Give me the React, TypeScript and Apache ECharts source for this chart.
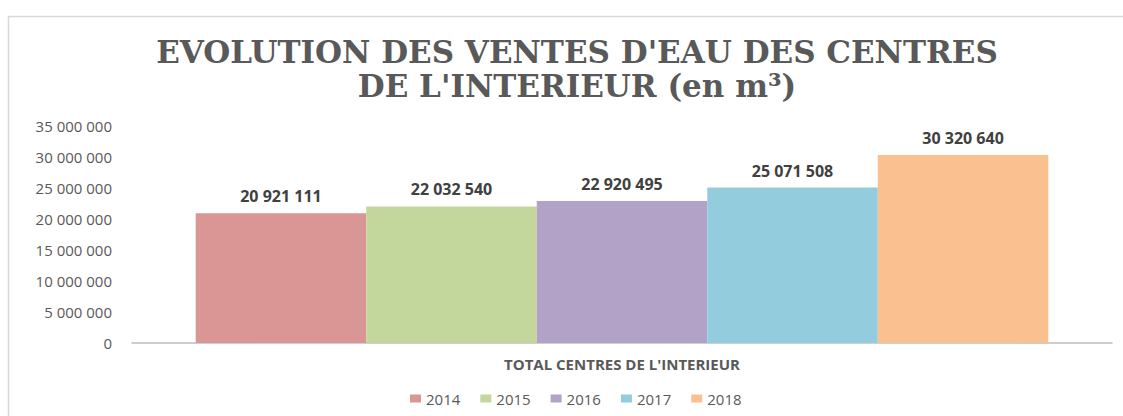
import React, { useEffect, useRef } from "react";
import * as echarts from "echarts";

const categories = ["TOTAL CENTRES DE L'INTERIEUR"];
const years = ["2014", "2015", "2016", "2017", "2018"];
const values = [20921111, 22032540, 22920495, 25071508, 30320640];
const colors = ["#D99694", "#C3D69B", "#B3A2C7", "#93CDDD", "#FAC090"];
const titleLines = ["EVOLUTION DES VENTES D'EAU DES CENTRES", "DE L'INTERIEUR (en m³)"];

const fmt = (v: number) => String(Math.round(v)).replace(/\B(?=(\d{3})+(?!\d))/g, " ");

export default function App() {
  const ref = useRef<HTMLDivElement>(null);
  useEffect(() => {
    document.body.style.margin = "0";
    const chart = echarts.init(ref.current!, undefined, { renderer: "svg" });
    chart.setOption({
      animation: false,
      backgroundColor: "#ffffff",
      title: {
        text: titleLines.join("\n"),
        left: 572,
        top: 30,
        textAlign: "center",
        textStyle: {
          fontFamily: "DejaVu Serif",
          fontWeight: "bold",
          fontSize: 31,
          lineHeight: 34,
          color: "#595959",
        },
      },
      graphic: [
        {
          type: "rect",
          shape: { x: 8.5, y: 16.5, width: 1200, height: 500 },
          style: { fill: "none", stroke: "#D9D9D9", lineWidth: 1.5 },
          z: 100,
          silent: true,
        },
      ],
      legend: {
        data: years,
        left: 405,
        top: 386,
        itemWidth: 11,
        itemHeight: 8,
        itemGap: 20,
        icon: "rect",
        textStyle: { fontFamily: "Open Sans", fontSize: 15, color: "#595959" },
      },
      grid: { left: 132, right: 11, top: 126, bottom: 416 - 343 },
      xAxis: {
        type: "category",
        data: categories,
        axisLine: { lineStyle: { color: "#BFBFBF", width: 1.5 } },
        axisTick: { show: false },
        axisLabel: {
          fontFamily: "Open Sans",
          fontWeight: "bold",
          fontSize: 15,
          color: "#595959",
          margin: 13,
        },
      },
      yAxis: {
        type: "value",
        min: 0,
        max: 35000000,
        interval: 5000000,
        splitLine: { show: false },
        axisLine: { show: false },
        axisTick: { show: false },
        axisLabel: {
          fontFamily: "Open Sans",
          fontSize: 15,
          color: "#595959",
          margin: 20,
          formatter: (v: number) => fmt(v),
        },
      },
      series: years.map((y, i) => ({
        name: y,
        type: "bar",
        data: [values[i]],
        barGap: "0%",
        barCategoryGap: "13%",
        itemStyle: { color: colors[i] },
        label: {
          show: true,
          position: "top",
          distance: 9,
          fontFamily: "Open Sans",
          fontWeight: "bold",
          fontSize: 16,
          color: "#404040",
          formatter: (p: any) => fmt(p.value),
        },
      })),
    });
    return () => chart.dispose();
  }, []);
  return <div ref={ref} style={{ width: 1123, height: 416 }} />;
}
